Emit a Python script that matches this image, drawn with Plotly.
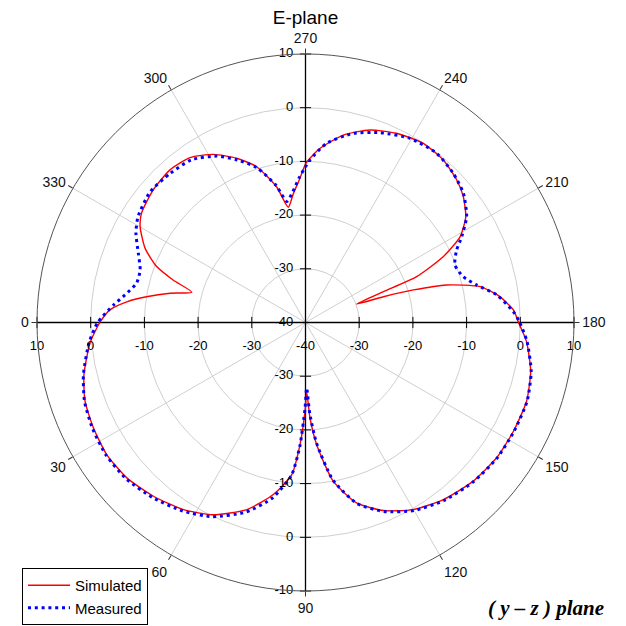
import plotly.graph_objects as go

# ---------------- data (angle in degrees, level in dB) ----------------
sim_theta = [0, 5.4, 13.3, 19.7, 26.4, 33.6, 41.0, 48.8, 56.9, 64.4, 72.6, 79.4, 84.8, 87.4,
             89.7, 91.0, 92.7, 95.2, 99.9, 105.8, 112.5, 119.9, 127.9, 136.6, 144.7, 152.4,
             160.4, 167.8, 175.1, 180.3, 183.4, 187.6, 191.6, 194.9, 196.8, 198.3, 199.9,
             201.6, 202.4, 205.5, 209.0, 213.4, 218.6, 223.3, 229.7, 236.7, 244.3, 251.5,
             258.6, 265.2, 269.8, 272.2, 275.5, 278.5, 282.0, 287.4, 292.7, 298.7, 305.0,
             311.6, 319.0, 326.3, 329.9, 335.2, 339.4, 342.2, 345.1, 347.8, 350.8, 353.4,
             356.3, 360]
sim_db = [-1.7, 0.3, 2.4, 3.6, 4.1, 4.45, 4.1, 3.0, 1.6, -0.3, -3.5, -7.4, -11.5, -17.2,
          -23.5, -27.0, -22.2, -17.2, -10.0, -5.1, -2.1, 0.2, 1.8, 3.0, 3.6, 3.7,
          3.7, 2.9, 1.3, -0.4, -1.2, -3.5, -6.8, -12.8, -19.0, -24.7, -29.9,
          -24.4, -17.6, -11.6, -7.1, -4.25, -2.4, -1.3, -0.33, -0.07, -0.9, -2.2,
          -4.4, -7.45, -10.3, -13.1, -16.0, -18.3, -14.2, -9.6, -6.85, -4.3, -2.5,
          -2.0, -2.4, -3.3, -4.4, -7.1, -10.4, -14.1, -18.1, -14.2, -10.0, -6.5,
          -3.5, -1.7]

meas_theta = [0, 5.4, 13.3, 19.7, 26.4, 33.6, 41.0, 48.8, 56.9, 64.4, 72.6, 79.4, 84.8, 87.4,
              89.7, 91.0, 92.7, 95.2, 99.9, 105.8, 112.5, 119.9, 127.9, 136.6, 144.7, 152.4,
              160.4, 167.8, 175.1, 180.3, 183.0, 188.2, 192.4, 196.2, 201.0, 205.6, 208.8,
              213.3, 219.3, 225.3, 232.2, 240.4, 248.6, 255.8, 263.3, 268.4, 270.0, 272.5,
              275.5, 278.8, 282.0, 287.4, 292.7, 298.0, 305.0, 312.2, 320.0, 327.7, 332.2,
              337.5, 342.4, 346.9, 351.3, 354.8, 360]
meas_db = [-1.3, 0.5, 2.5, 3.7, 4.3, 4.6, 4.3, 3.3, 1.9, 0.1, -3.0, -6.8, -11.5, -17.0,
           -24.0, -27.8, -23.0, -17.5, -10.2, -5.0, -1.9, 0.4, 2.0, 3.1, 3.7, 3.8,
           3.8, 3.0, 1.4, -0.2, -1.25, -4.0, -7.4, -9.4, -10.2, -8.8, -6.8,
           -4.1, -2.0, -0.9, -0.13, -0.56, -2.03, -3.67, -6.4, -9.7, -11.0, -13.0,
           -15.5, -17.2, -14.0, -9.8, -7.2, -4.9, -3.0, -2.5, -2.2, -3.1, -4.3,
           -6.3, -7.7, -7.7, -6.0, -4.1, -1.3]

angle_ticks = [0, 30, 60, 90, 120, 150, 180, 210, 240, 270, 300, 330]
radial_ticks = [-40, -30, -20, -10, 0, 10]
radial_labels = ["-40", "-30", "-20", "-10", "0", "10"]
bottom_labels = ["-40", "-30", "-20", "-10", "0", "-10"]   # as printed in the original

# ---------------- figure ----------------
W = H = 626
cx, cy, R = 305.5, 322.5, 268.5
FONT = "Liberation Sans, Arial, sans-serif"

fig = go.Figure()

# black cross axes
fig.add_trace(go.Scatterpolar(r=[10, -40, 10], theta=[0, 0, 180], mode="lines",
                              line=dict(color="black", width=1.3), showlegend=False,
                              hoverinfo="skip", cliponaxis=False))
fig.add_trace(go.Scatterpolar(r=[10, -40, 10], theta=[270, 270, 90], mode="lines",
                              line=dict(color="black", width=1.3), showlegend=False,
                              hoverinfo="skip", cliponaxis=False))
# tick marks on the cross
for th, sym in [(0, "line-ns-open"), (180, "line-ns-open"),
                (90, "line-ew-open"), (270, "line-ew-open")]:
    fig.add_trace(go.Scatterpolar(r=radial_ticks[1:], theta=[th] * 5, mode="markers",
                                  marker=dict(symbol=sym, size=8, color="black",
                                              line=dict(color="black", width=1)),
                                  showlegend=False, hoverinfo="skip", cliponaxis=False))

# data
fig.add_trace(go.Scatterpolar(r=sim_db, theta=sim_theta, mode="lines", name="Simulated",
                              line=dict(color="#ff0000", width=1.4, shape="spline",
                                        smoothing=0.6)))
fig.add_trace(go.Scatterpolar(r=meas_db, theta=meas_theta, mode="lines", name="Measured",
                              line=dict(color="#0000ff", width=3, dash="3px,3.8px",
                                        shape="spline", smoothing=0.6)))

# radial tick labels along the cross
tfont = dict(family=FONT, size=13, color="black")
clear = "rgba(0,0,0,0)"
fig.add_trace(go.Scatterpolar(r=radial_ticks, theta=[0] * 6, mode="markers+text",
                              text=radial_labels, textposition="bottom center",
                              marker=dict(size=26, color=clear), textfont=tfont,
                              showlegend=False, hoverinfo="skip", cliponaxis=False))
fig.add_trace(go.Scatterpolar(r=radial_ticks[1:], theta=[180] * 5, mode="markers+text",
                              text=radial_labels[1:], textposition="bottom center",
                              marker=dict(size=26, color=clear), textfont=tfont,
                              showlegend=False, hoverinfo="skip", cliponaxis=False))
fig.add_trace(go.Scatterpolar(r=radial_ticks, theta=[270] * 6, mode="markers+text",
                              text=radial_labels, textposition="middle left",
                              marker=dict(size=18, color=clear), textfont=tfont,
                              showlegend=False, hoverinfo="skip", cliponaxis=False))
fig.add_trace(go.Scatterpolar(r=radial_ticks[1:], theta=[90] * 5, mode="markers+text",
                              text=bottom_labels[1:], textposition="middle left",
                              marker=dict(size=18, color=clear), textfont=tfont,
                              showlegend=False, hoverinfo="skip", cliponaxis=False))

fig.update_layout(
    width=W, height=H,
    margin=dict(l=0, r=0, t=0, b=0),
    paper_bgcolor="white", plot_bgcolor="white",
    font=dict(family=FONT, size=14, color="black"),
    title=dict(text="E-plane", x=cx / W, y=1 - 17 / H, xanchor="center", yanchor="middle",
               font=dict(family=FONT, size=19, color="black")),
    polar=dict(
        domain=dict(x=[(cx - R) / W, (cx + R) / W], y=[1 - (cy + R) / H, 1 - (cy - R) / H]),
        bgcolor="white",
        radialaxis=dict(range=[-40, 10], tickvals=radial_ticks[1:5], showticklabels=False,
                        ticks="", showline=False, gridcolor="#cfcfcf", gridwidth=1),
        angularaxis=dict(rotation=180, direction="counterclockwise",
                         tickvals=angle_ticks, ticktext=[str(a) for a in angle_ticks],
                         ticks="outside", ticklen=5, tickcolor="#333",
                         showline=True, linecolor="#555", linewidth=1,
                         gridcolor="#cfcfcf", gridwidth=1,
                         tickfont=dict(family=FONT, size=14, color="#111")),
    ),
    legend=dict(x=22 / W, y=1 - 568 / H, xanchor="left", yanchor="top",
                bordercolor="black", borderwidth=1, bgcolor="white",
                font=dict(family=FONT, size=15, color="black"),
                itemwidth=42, tracegroupgap=0),
    annotations=[dict(text="<b><i>( y – z ) plane</i></b>", xref="paper", yref="paper",
                      x=546 / W, y=1 - 608 / H, xanchor="center", yanchor="middle",
                      showarrow=False,
                      font=dict(family="Liberation Serif, Times New Roman, serif",
                                size=21, color="black"))],
)

fig.write_html("out.html",
               config={"displayModeBar": False},
               post_script="document.body.style.margin='0px';"
                           "document.body.style.padding='0px';"
                           "document.body.style.overflow='hidden';")
